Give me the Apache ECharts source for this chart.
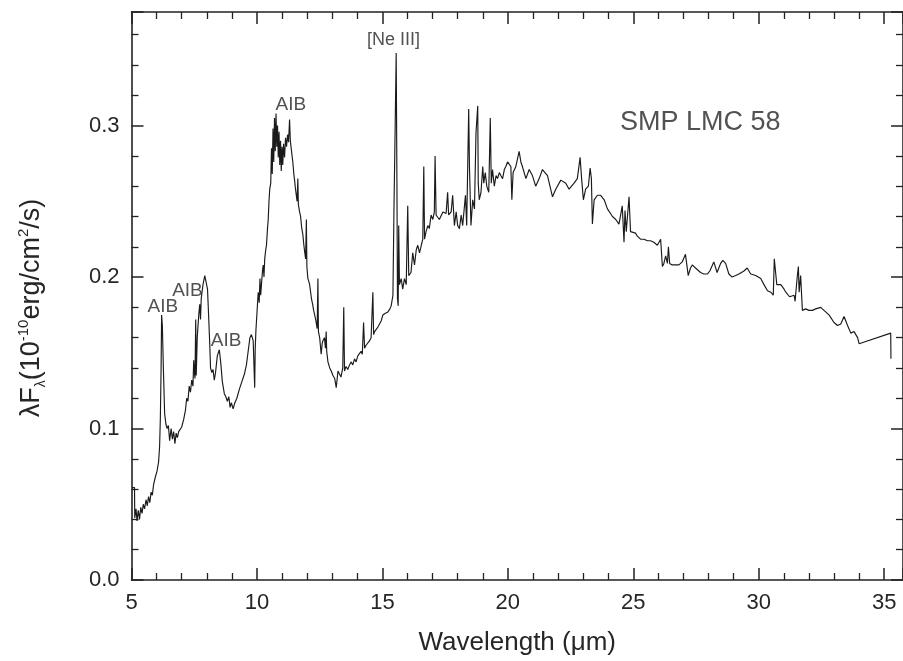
<!DOCTYPE html>
<html>
<head>
<meta charset="utf-8">
<script src="https://cdn.jsdelivr.net/npm/echarts@6/dist/echarts.min.js"></script>
<style>
html,body{margin:0;padding:0;background:#fff;}
#chart{width:903px;height:661px;}
</style>
</head>
<body>
<div id="chart"></div>
<script>
// Wavelength (micron)
const wavelength = [
5.02,5.12,5.13,5.18,5.22,5.27,5.32,5.37,5.42,5.47,5.52,5.58,5.63,5.68,5.73,5.78,5.83,5.88,5.95,6.02,
6.08,6.12,6.15,6.18,6.20,6.23,6.27,6.32,6.37,6.42,6.47,6.52,6.58,6.63,6.68,6.73,6.78,6.83,6.88,6.93,
7.00,7.08,7.15,7.20,7.25,7.30,7.35,7.40,7.45,7.48,7.50,7.53,7.56,7.58,7.62,7.68,7.72,7.75,7.78,7.85,
7.92,7.98,8.03,8.08,8.12,8.15,8.20,8.25,8.30,8.35,8.42,8.50,8.56,8.62,8.70,8.76,8.82,8.88,8.93,8.98,
9.05,9.12,9.20,9.30,9.42,9.50,9.58,9.65,9.72,9.78,9.85,9.91,9.93,9.96,10.00,10.05,10.09,10.12,10.15,10.18,
10.22,10.25,10.28,10.31,10.35,10.38,10.42,10.45,10.48,10.51,10.55,10.58,10.61,10.64,10.67,10.70,10.73,10.76,10.79,10.82,
10.85,10.88,10.91,10.94,10.97,11.00,11.03,11.06,11.10,11.14,11.18,11.22,11.26,11.30,11.33,11.36,11.40,11.43,11.47,11.50,
11.53,11.56,11.60,11.63,11.65,11.70,11.74,11.78,11.83,11.87,11.90,11.94,11.97,11.99,12.03,12.07,12.10,12.14,12.17,12.22,
12.26,12.30,12.35,12.40,12.43,12.45,12.50,12.56,12.60,12.63,12.69,12.73,12.76,12.78,12.83,12.90,12.96,13.03,13.10,13.16,
13.23,13.29,13.35,13.42,13.46,13.49,13.55,13.62,13.69,13.76,13.82,13.89,13.95,14.02,14.09,14.15,14.20,14.25,14.29,14.35,
14.42,14.49,14.55,14.62,14.65,14.69,14.75,14.82,14.89,14.95,15.02,15.10,15.22,15.30,15.35,15.42,15.46,15.51,15.55,15.58,
15.60,15.63,15.65,15.68,15.75,15.81,15.88,15.95,16.01,16.05,16.14,16.21,16.28,16.35,16.41,16.48,16.55,16.61,16.65,16.68,
16.74,16.81,16.87,16.94,17.01,17.07,17.10,17.14,17.27,17.41,17.54,17.60,17.64,17.74,17.80,17.87,17.94,18.00,18.07,18.14,
18.20,18.31,18.36,18.44,18.47,18.53,18.60,18.67,18.73,18.80,18.82,18.86,18.93,19.00,19.04,19.10,19.16,19.24,19.30,19.34,
19.39,19.46,19.53,19.59,19.66,19.72,19.79,19.86,19.92,19.99,20.06,20.12,20.16,20.21,20.32,20.45,20.52,20.58,20.72,20.85,
20.98,21.11,21.25,21.38,21.45,21.58,21.78,21.91,22.11,22.31,22.44,22.64,22.77,22.88,22.94,23.01,23.10,23.21,23.28,23.33,
23.37,23.44,23.57,23.70,23.84,23.97,24.17,24.30,24.43,24.56,24.63,24.67,24.72,24.83,24.89,24.96,25.09,25.16,25.29,25.43,
25.56,25.69,25.82,25.96,26.09,26.16,26.22,26.29,26.36,26.40,26.45,26.55,26.82,26.95,27.08,27.19,27.28,27.35,27.48,27.68,
27.81,27.95,28.05,28.21,28.34,28.48,28.57,28.68,28.81,28.94,29.08,29.21,29.41,29.54,29.68,29.88,30.08,30.21,30.35,30.48,
30.58,30.62,30.72,30.88,31.01,31.08,31.23,31.41,31.45,31.48,31.54,31.58,31.61,31.67,31.74,31.87,32.00,32.14,32.27,32.47,
32.60,32.80,33.00,33.14,33.27,33.40,33.47,33.54,33.67,33.80,33.94,34.00,35.26,35.27
];
// lambda F_lambda (1e-10 erg/cm^2/s)
const flux = [
0.061,0.061,0.041,0.047,0.039,0.046,0.040,0.048,0.044,0.050,0.047,0.053,0.049,0.055,0.051,0.058,0.056,0.063,0.068,0.072,
0.078,0.088,0.107,0.140,0.175,0.168,0.140,0.110,0.103,0.100,0.102,0.092,0.100,0.093,0.098,0.090,0.097,0.094,0.098,0.097,
0.101,0.106,0.112,0.120,0.118,0.128,0.124,0.132,0.128,0.145,0.138,0.133,0.172,0.135,0.160,0.175,0.182,0.172,0.186,0.195,
0.201,0.200,0.192,0.172,0.155,0.140,0.137,0.139,0.132,0.137,0.148,0.152,0.143,0.131,0.123,0.121,0.118,0.121,0.114,0.117,
0.113,0.117,0.120,0.126,0.132,0.136,0.142,0.151,0.160,0.162,0.158,0.127,0.152,0.165,0.176,0.190,0.183,0.199,0.188,0.195,
0.204,0.208,0.200,0.212,0.218,0.221,0.232,0.238,0.250,0.258,0.262,0.285,0.268,0.298,0.276,0.305,0.283,0.308,0.286,0.300,
0.279,0.296,0.274,0.290,0.270,0.286,0.274,0.288,0.279,0.292,0.286,0.294,0.289,0.304,0.290,0.291,0.280,0.276,0.268,0.264,
0.259,0.258,0.250,0.265,0.248,0.243,0.240,0.233,0.228,0.221,0.217,0.212,0.238,0.207,0.199,0.197,0.195,0.190,0.186,0.182,
0.178,0.175,0.171,0.166,0.199,0.164,0.160,0.149,0.156,0.158,0.160,0.153,0.164,0.151,0.144,0.140,0.138,0.135,0.133,0.127,
0.138,0.136,0.134,0.140,0.180,0.138,0.141,0.139,0.142,0.144,0.142,0.146,0.144,0.148,0.149,0.151,0.149,0.170,0.153,0.155,
0.154,0.158,0.160,0.190,0.162,0.164,0.163,0.167,0.166,0.171,0.175,0.176,0.177,0.179,0.181,0.188,0.243,0.300,0.348,0.260,
0.186,0.181,0.234,0.195,0.199,0.192,0.199,0.195,0.247,0.201,0.203,0.216,0.208,0.218,0.221,0.216,0.221,0.225,0.273,0.225,
0.230,0.234,0.232,0.241,0.238,0.243,0.280,0.241,0.238,0.243,0.242,0.256,0.241,0.243,0.254,0.234,0.243,0.234,0.232,0.241,
0.234,0.254,0.234,0.311,0.273,0.234,0.251,0.245,0.295,0.313,0.262,0.251,0.256,0.273,0.262,0.269,0.260,0.256,0.305,0.262,
0.271,0.260,0.267,0.265,0.269,0.267,0.265,0.271,0.273,0.276,0.277,0.273,0.251,0.269,0.273,0.283,0.276,0.273,0.265,0.271,
0.267,0.260,0.265,0.271,0.272,0.267,0.253,0.258,0.264,0.262,0.258,0.262,0.265,0.279,0.265,0.251,0.258,0.260,0.272,0.265,
0.235,0.251,0.254,0.254,0.251,0.245,0.240,0.238,0.235,0.247,0.223,0.244,0.230,0.253,0.230,0.229,0.229,0.227,0.225,0.225,
0.224,0.224,0.223,0.221,0.225,0.207,0.209,0.214,0.209,0.220,0.209,0.208,0.208,0.210,0.215,0.201,0.206,0.208,0.206,0.203,
0.202,0.202,0.204,0.210,0.203,0.209,0.211,0.209,0.202,0.200,0.201,0.202,0.204,0.206,0.202,0.201,0.199,0.195,0.191,0.190,
0.188,0.212,0.195,0.195,0.192,0.190,0.187,0.188,0.184,0.190,0.201,0.207,0.190,0.201,0.178,0.179,0.178,0.178,0.179,0.180,
0.178,0.175,0.170,0.168,0.169,0.174,0.175,0.168,0.163,0.164,0.160,0.156,0.163,0.146
];
// Annotations (text and anchor in data units)
const noteText = ['AIB','AIB','AIB','AIB','[Ne III]','SMP LMC 58'];
const noteX = [6.25, 7.23, 8.77, 11.35, 15.44, 27.67];
const noteY = [0.1803, 0.1912, 0.1581, 0.3135, 0.3566, 0.302];
const noteSize = [19, 19, 19, 19, 18, 27];

const xTickStep = 5, yTickStep = 0.1;

const FONT = 'Liberation Sans, Arial, Helvetica, sans-serif';
const INK = '#222';
const TXT = '#262626';

const seriesData = wavelength.map((w, i) => [w, flux[i]]);
const noteData = noteText.map((t, i) => ({
  name: t, value: [noteX[i], noteY[i]],
  label: { fontSize: noteSize[i] }
}));

function axisBase(extra) {
  return Object.assign({
    type: 'value',
    axisLine: { show: true, onZero: false, lineStyle: { color: INK, width: 1.6 } },
    axisTick: { show: true, inside: true, length: 12, lineStyle: { color: INK, width: 1.5 } },
    minorTick: { show: true, splitNumber: 5, length: 7, lineStyle: { color: INK, width: 1.3 } },
    splitLine: { show: false },
    minorSplitLine: { show: false }
  }, extra);
}

const chart = echarts.init(document.getElementById('chart'), null, { renderer: 'canvas' });
chart.setOption({
  animation: false,
  backgroundColor: '#fff',
  grid: { left: 131.5, top: 12, right: -1.5, bottom: 78.3, containLabel: false },
  xAxis: [
    axisBase({
      position: 'bottom', min: 5, max: 35.75, interval: xTickStep,
      axisLabel: { fontSize: 22, margin: 12, color: TXT, fontFamily: FONT, showMaxLabel: false },
      name: 'Wavelength (\u03bcm)', nameLocation: 'middle', nameGap: 50,
      nameTextStyle: { fontSize: 26, color: TXT, fontFamily: FONT }
    }),
    axisBase({
      position: 'top', min: 5, max: 35.75, interval: xTickStep,
      axisLabel: { show: false }
    })
  ],
  yAxis: [
    axisBase({
      position: 'left', min: 0, max: 0.375, interval: yTickStep,
      axisLabel: { fontSize: 22, margin: 12, color: TXT, fontFamily: FONT, showMaxLabel: false,
        formatter: v => v.toFixed(1) }
    }),
    axisBase({
      position: 'right', min: 0, max: 0.375, interval: yTickStep,
      axisLabel: { show: false }
    })
  ],
  graphic: [{
    type: 'text',
    x: 32, y: 308,
    rotation: Math.PI / 2,
    style: {
      text: '{n|\u03bbF}{sub|\u03bb}{n|(10}{sup|-10}{n|erg/cm}{sup|2}{n|/s)}',
      align: 'center', verticalAlign: 'middle',
      fill: TXT, fontFamily: FONT,
      rich: {
        n: { fontSize: 27, lineHeight: 32, fontFamily: FONT, fill: TXT },
        sup: { fontSize: 15, lineHeight: 15, verticalAlign: 'top', fontFamily: FONT, fill: TXT },
        sub: { fontSize: 14, lineHeight: 14, verticalAlign: 'bottom', fontFamily: FONT, fill: TXT }
      }
    }
  }],
  series: [
    {
      type: 'line', xAxisIndex: 0, yAxisIndex: 0,
      data: seriesData,
      showSymbol: false, symbol: 'none',
      lineStyle: { color: '#1a1a1a', width: 1.15 },
      clip: true, silent: true, z: 2
    },
    {
      type: 'scatter', xAxisIndex: 0, yAxisIndex: 0,
      data: noteData, symbolSize: 0, silent: true, z: 5,
      label: { show: true, position: 'inside', formatter: '{b}', color: TXT, fontFamily: FONT }
    }
  ]
});
</script>
</body>
</html>
